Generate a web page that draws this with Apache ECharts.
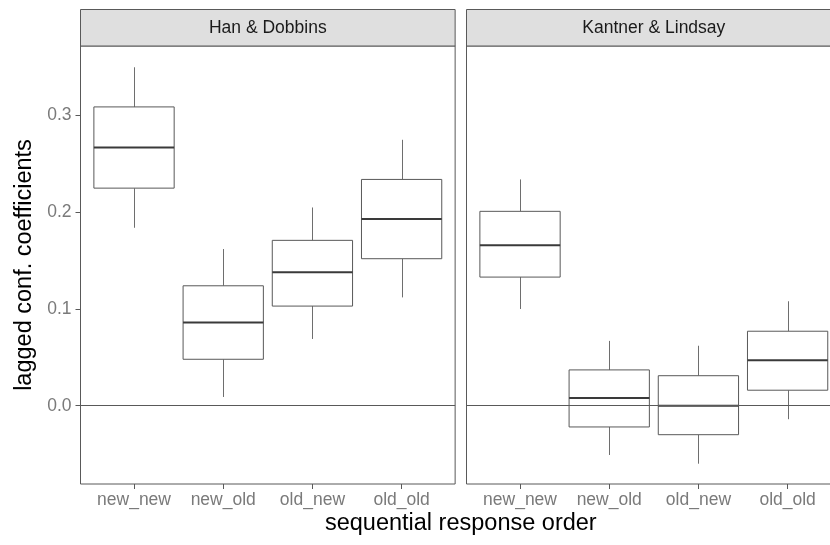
<!DOCTYPE html>
<html>
<head>
<meta charset="utf-8">
<script src="https://cdn.jsdelivr.net/npm/echarts@6/dist/echarts.min.js"></script>
<style>
  html, body { margin: 0; padding: 0; background: #fff; overflow: hidden; }
  #chart { width: 844px; height: 545px; }
</style>
</head>
<body>
<div id="chart"></div>
<script>
// Facet titles and the response-order categories shared by both panels
const panels = ['Han & Dobbins', 'Kantner & Lindsay'];
const categories = ['new_new', 'new_old', 'old_new', 'old_old'];

// Box statistics per category: [lower whisker, Q1, median, Q3, upper whisker]
const hanDobbins = [
  [0.184, 0.225, 0.267, 0.309, 0.350],
  [0.009, 0.048, 0.086, 0.124, 0.162],
  [0.069, 0.103, 0.138, 0.171, 0.205],
  [0.112, 0.152, 0.193, 0.234, 0.275]
];
const kantnerLindsay = [
  [0.100, 0.133, 0.166, 0.201, 0.234],
  [-0.051, -0.022, 0.008, 0.037, 0.067],
  [-0.060, -0.030, 0.000, 0.031, 0.062],
  [-0.014, 0.016, 0.047, 0.077, 0.108]
];

const yTicks = [0, 0.1, 0.2, 0.3];
const yRange = [-0.081, 0.372];
const xTicks = [1, 2, 3, 4];
const xRange = [0.4, 4.6];

// Panel geometry (the second panel runs past the right edge of the view)
const band = 89.2;
const panelW = band * (xRange[1] - xRange[0]);
const panelLeft = [80.5, 466.5];
const panelTop = 46;
const panelH = 438;
const stripTop = 9.5;

const FONT = '"Liberation Sans", Arial, Helvetica, sans-serif';
const BOX_WIDTH = 0.9;

function renderBox(params, api) {
  const x = api.value(0);
  const lo = api.coord([x, api.value(1)]);
  const q1 = api.coord([x, api.value(2)]);
  const med = api.coord([x, api.value(3)]);
  const q3 = api.coord([x, api.value(4)]);
  const hi = api.coord([x, api.value(5)]);
  const half = api.size([BOX_WIDTH, 0])[0] / 2;
  const cx = Math.round(med[0]) + 0.5;
  return {
    type: 'group',
    children: [
      { type: 'line', shape: { x1: cx, y1: lo[1], x2: cx, y2: q1[1] },
        style: { stroke: '#6e6e6e', lineWidth: 1 } },
      { type: 'line', shape: { x1: cx, y1: q3[1], x2: cx, y2: hi[1] },
        style: { stroke: '#6e6e6e', lineWidth: 1 } },
      { type: 'rect', shape: { x: med[0] - half, y: q3[1], width: 2 * half, height: q1[1] - q3[1] },
        style: { fill: '#ffffff', stroke: '#595959', lineWidth: 1 } },
      { type: 'line', shape: { x1: med[0] - half, y1: med[1], x2: med[0] + half, y2: med[1] },
        style: { stroke: '#3a3a3a', lineWidth: 2 } }
    ]
  };
}

const datasets = [hanDobbins, kantnerLindsay];

const grids = [], xAxes = [], yAxes = [], series = [], graphics = [];

panels.forEach((name, i) => {
  grids.push({
    left: panelLeft[i], top: panelTop, width: panelW, height: panelH,
    show: true, borderColor: '#595959', borderWidth: 1, backgroundColor: '#ffffff',
    containLabel: false
  });
  xAxes.push({
    type: 'value', gridIndex: i, min: xRange[0], max: xRange[1],
    axisLine: { show: false, onZero: false },
    splitLine: { show: false },
    axisTick: { show: true, customValues: xTicks, length: 5, lineStyle: { color: '#595959' } },
    axisLabel: {
      show: true, customValues: xTicks, margin: 7,
      formatter: v => categories[Math.round(v) - 1],
      color: '#7a7a7a', fontSize: 17.5, fontFamily: FONT
    }
  });
  yAxes.push({
    type: 'value', gridIndex: i, min: yRange[0], max: yRange[1],
    axisLine: { show: false, onZero: false },
    splitLine: { show: false },
    axisTick: { show: i === 0, customValues: yTicks, length: 5, lineStyle: { color: '#595959' } },
    axisLabel: {
      show: i === 0, customValues: yTicks, margin: 9,
      formatter: v => v.toFixed(1),
      color: '#7a7a7a', fontSize: 17.5, fontFamily: FONT
    },
    name: i === 0 ? 'lagged conf. coefficients' : '',
    nameLocation: 'middle', nameGap: 44,
    nameTextStyle: { color: '#000', fontSize: 23.5, fontFamily: FONT }
  });
  series.push({
    type: 'custom', name: name, xAxisIndex: i, yAxisIndex: i,
    renderItem: renderBox,
    encode: { x: 0, y: [1, 2, 3, 4, 5] },
    data: datasets[i].map((s, k) => [xTicks[k]].concat(s)),
    silent: true,
    markLine: {
      silent: true, symbol: 'none', animation: false,
      label: { show: false },
      lineStyle: { color: '#595959', width: 1, type: 'solid' },
      emphasis: { disabled: true },
      data: [{ yAxis: 0 }]
    }
  });
  // facet strip
  graphics.push({
    type: 'rect', silent: true,
    shape: { x: panelLeft[i], y: stripTop, width: panelW, height: panelTop - stripTop },
    style: { fill: '#dfdfdf', stroke: '#595959', lineWidth: 1 }
  });
  graphics.push({
    type: 'text', silent: true,
    x: panelLeft[i] + panelW / 2, y: (stripTop + panelTop) / 2,
    style: { text: name, fill: '#1a1a1a', fontSize: 17.5, fontFamily: FONT,
             textAlign: 'center', textVerticalAlign: 'middle' }
  });
});

graphics.push({
  type: 'text', silent: true,
  x: (panelLeft[0] + panelLeft[1] + panelW) / 2, y: 524,
  style: { text: 'sequential response order', fill: '#000', fontSize: 23.5, fontFamily: FONT,
           textAlign: 'center', textVerticalAlign: 'middle' }
});

const chart = echarts.init(document.getElementById('chart'), null, { renderer: 'canvas' });
chart.setOption({
  animation: false,
  backgroundColor: '#ffffff',
  grid: grids,
  xAxis: xAxes,
  yAxis: yAxes,
  series: series,
  graphic: graphics
});
</script>
</body>
</html>
